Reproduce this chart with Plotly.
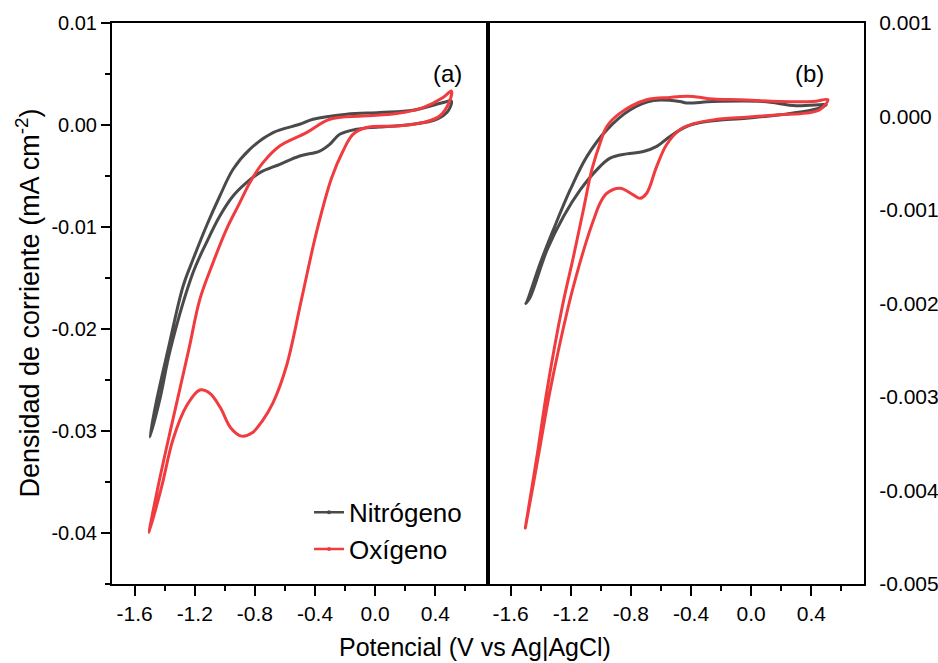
import plotly.graph_objects as go

# ---------------- data ----------------
# Panel (a): Nitrógeno (closed CV loop)
a_n2_v = [0.506, 0.451, 0.251, 0.030, -0.191, -0.413, -0.502, -0.679, -0.834,
          -0.945, -1.033, -1.122, -1.211, -1.277, -1.377, -1.452, -1.498,
          -1.432, -1.362, -1.211, -1.122, -1.033, -0.945, -0.856, -0.767, -0.634,
          -0.502, -0.369, -0.302, -0.236, -0.125, 0.030, 0.251, 0.407, 0.484, 0.506]
a_n2_j = [0.00235, 0.0022, 0.00144, 0.00122, 0.00105, 0.00056, 0.00007, -0.00075, -0.00238,
          -0.00434, -0.00696, -0.0099, -0.01317, -0.01578, -0.022, -0.0269, -0.0306,
          -0.0269, -0.022, -0.01447, -0.01153, -0.00892, -0.00696, -0.00565, -0.00467, -0.00385,
          -0.00304, -0.00255, -0.00189, -0.00091, -0.00042, -0.0002, 0.00007, 0.00056, 0.00137, 0.00235]

# Panel (a): Oxígeno
a_o2_v = [0.506, 0.451, 0.318, 0.141, -0.081, -0.302, -0.457, -0.635, -0.746, -0.834,
          -0.900, -0.989, -1.078, -1.166, -1.239, -1.365, -1.443, -1.503,
          -1.419, -1.344, -1.255, -1.166, -1.100, -1.030, -0.960, -0.889, -0.820, -0.750,
          -0.679, -0.590, -0.490, -0.391, -0.290, -0.214, -0.148, -0.058, 0.141, 0.318,
          0.429, 0.495, 0.506]
a_o2_j = [0.00333, 0.00269, 0.00171, 0.00112, 0.00088, 0.00056, -0.00075, -0.00206, -0.00369, -0.00565,
          -0.00761, -0.01023, -0.01349, -0.01709, -0.022, -0.03016, -0.03539, -0.03996,
          -0.0354, -0.03081, -0.02755, -0.02598, -0.0263, -0.0277, -0.0297, -0.0305, -0.0302, -0.0290,
          -0.02722, -0.02363, -0.01709, -0.01055, -0.0052, -0.00255, -0.00091, -0.00025, -0.0001, 0.00024,
          0.00088, 0.00235, 0.00333]

# Panel (b): Nitrógeno
b_n2_v = [0.499, 0.300, 0.079, -0.253, -0.430, -0.474, -0.650, -0.806, -0.960, -1.093, -1.204,
          -1.315, -1.403, -1.491, -1.498,
          -1.469, -1.358, -1.248, -1.137, -1.027, -0.938, -0.828, -0.717, -0.628, -0.540,
          -0.430, -0.297, -0.031, 0.190, 0.411, 0.499]
b_n2_j = [0.000125, 0.000115, 0.00016, 0.00016, 0.000144, 0.00016, 0.00017, 0.00007, -0.000143, -0.000429, -0.000786,
          -0.00121, -0.00157, -0.00198, -0.0020,
          -0.00193, -0.00143, -0.00107, -0.000786, -0.000571, -0.000446, -0.0004, -0.000375, -0.00032, -0.000214,
          -0.000107, -0.000054, -0.000018, 0.000018, 0.000072, 0.000125]

# Panel (b): Oxígeno
b_o2_v = [0.510, 0.410, 0.190, -0.076, -0.253, -0.386, -0.474, -0.540, -0.695, -0.872, -0.960,
          -1.005, -1.060, -1.116, -1.182, -1.257, -1.358, -1.425, -1.502,
          -1.416, -1.337, -1.217, -1.159, -1.093, -1.049, -1.005, -0.960, -0.872, -0.784,
          -0.739, -0.695, -0.629, -0.562, -0.474, -0.386, -0.253, -0.031, 0.190,
          0.367, 0.455, 0.510]
b_o2_j = [0.000179, 0.00016, 0.00016, 0.000179, 0.000186, 0.000214, 0.000214, 0.000204, 0.000179, 0.000036, -0.000107,
          -0.000285, -0.000571, -0.001, -0.0015, -0.00204, -0.00293, -0.00364, -0.0044,
          -0.00364, -0.00293, -0.00204, -0.00168, -0.00132, -0.00111, -0.000928, -0.000821, -0.000767, -0.000839,
          -0.000875, -0.000821, -0.000536, -0.0003, -0.00014, -0.000078, -0.000036, -0.000007, 0.000018,
          0.000036, 0.000072, 0.000179]

series_names = ["Nitrógeno", "Oxígeno"]
panel_labels = ["(a)", "(b)"]

x_tickvals = [-1.6, -1.2, -0.8, -0.4, 0.0, 0.4]
x_ticktext = ["-1.6", "-1.2", "-0.8", "-0.4", "0.0", "0.4"]
ya_tickvals = [0.01, 0.0, -0.01, -0.02, -0.03, -0.04]
ya_ticktext = ["0.01", "0.00", "-0.01", "-0.02", "-0.03", "-0.04"]
yb_tickvals = [0.001, 0.0, -0.001, -0.002, -0.003, -0.004, -0.005]
yb_ticktext = ["0.001", "0.000", "-0.001", "-0.002", "-0.003", "-0.004", "-0.005"]

x_title = "Potencial (V vs Ag|AgCl)"
y_title = "Densidad de corriente (mA cm<sup>-2</sup>)"

# ---------------- styles ----------------
GRAY = "#4a4a4a"
RED = "#f03c3f"
FONT = "Liberation Sans, Arial, Helvetica, sans-serif"
LW = 3

fig = go.Figure()

def add_curve(v, j, color, xa, ya):
    fig.add_trace(go.Scatter(x=v, y=j, mode="lines", xaxis=xa, yaxis=ya,
                             line=dict(color=color, width=LW, shape="spline", smoothing=1.0),
                             showlegend=False, hoverinfo="skip"))

add_curve(a_n2_v, a_n2_j, GRAY, "x", "y")
add_curve(a_o2_v, a_o2_j, RED, "x", "y")
add_curve(b_n2_v, b_n2_j, GRAY, "x2", "y2")
add_curve(b_o2_v, b_o2_j, RED, "x2", "y2")

# legend entries (line with a small dot, as in the reference)
for name, col in zip(series_names, [GRAY, RED]):
    fig.add_trace(go.Scatter(x=[None], y=[None], mode="lines+markers", name=name,
                             line=dict(color=col, width=2.5),
                             marker=dict(color=col, size=4), xaxis="x", yaxis="y"))

XR = [-1.75, 0.75]
axis_common = dict(showline=True, linecolor="black", linewidth=2, mirror=True,
                   showgrid=False, zeroline=False, tickcolor="black", tickwidth=2,
                   automargin=False)

xbot = dict(axis_common, range=XR, tickvals=x_tickvals, ticktext=x_ticktext,
            ticks="outside", ticklen=10,
            tickfont=dict(family=FONT, size=21, color="black"),
            minor=dict(tickvals=[-1.4, -1.0, -0.6, -0.2, 0.2, 0.6], ticks="outside",
                       ticklen=5, tickwidth=2, tickcolor="black"))
xtop = dict(range=XR, side="top", showline=False, showgrid=False, zeroline=False,
            showticklabels=False, ticks="inside", ticklen=10, tickwidth=2, tickcolor="black",
            automargin=False,
            tickvals=[-1.25, -0.75, -0.25, 0.25],
            minor=dict(tickvals=[-1.5, -1.0, -0.5, 0.0, 0.5], ticks="inside",
                       ticklen=5, tickwidth=2, tickcolor="black"))

fig.update_layout(
    width=938, height=663,
    margin=dict(l=112, r=74, t=23, b=79),
    paper_bgcolor="white", plot_bgcolor="white",
    font=dict(family=FONT, color="black"),
    xaxis=dict(xbot, domain=[0, 0.5], anchor="y"),
    xaxis2=dict(xbot, domain=[0.5, 1.0], anchor="y2"),
    xaxis3=dict(xtop, overlaying="x", anchor="y"),
    xaxis4=dict(xtop, overlaying="x2", anchor="y2"),
    yaxis=dict(axis_common, range=[-0.045, 0.01], anchor="x",
               tickvals=ya_tickvals, ticktext=ya_ticktext, ticks="outside", ticklen=9,
               tickfont=dict(family=FONT, size=20, color="black"),
               minor=dict(dtick=0.005, tick0=0.005, ticks="outside", ticklen=5,
                          tickwidth=2, tickcolor="black")),
    yaxis2=dict(axis_common, range=[-0.005, 0.001], anchor="x2", side="right",
                tickvals=yb_tickvals, ticktext=yb_ticktext, ticks="outside", ticklen=9,
                tickcolor="rgba(0,0,0,0)",
                tickfont=dict(family=FONT, size=21, color="black")),
    yaxis3=dict(range=[0, 10], overlaying="y2", anchor="x2", side="right",
                showline=False, showgrid=False, zeroline=False, showticklabels=False,
                automargin=False,
                ticks="inside", ticklen=10, tickwidth=2, tickcolor="black",
                tickvals=[0, 2, 4, 6, 8, 10],
                minor=dict(tickvals=[1, 3, 5, 7, 9], ticks="inside", ticklen=5,
                           tickwidth=2, tickcolor="black")),
    legend=dict(x=0.262, y=0.02, xanchor="left", yanchor="bottom",
                bgcolor="rgba(0,0,0,0)", borderwidth=0, tracegroupgap=0,
                font=dict(family=FONT, size=26, color="black")),
    showlegend=True,
)

annots = [
    dict(text=panel_labels[0], x=0.4455, y=0.9376, xref="paper", yref="paper",
         showarrow=False, font=dict(family=FONT, size=24)),
    dict(text=panel_labels[1], x=0.9495, y=0.9376, xref="paper", yref="paper",
         showarrow=False, font=dict(family=FONT, size=24)),
    dict(text=x_title, x=0.4825, y=-0.112, xref="paper", yref="paper",
         xanchor="center", yanchor="middle", showarrow=False,
         font=dict(family=FONT, size=25)),
    dict(text=y_title, x=-0.113, y=0.5, xref="paper", yref="paper", textangle=-90,
         xanchor="center", yanchor="middle", showarrow=False,
         font=dict(family=FONT, size=27)),
]
fig.update_layout(annotations=annots)

fig.write_html("out.html", config={"displayModeBar": False},
               post_script="document.body.style.margin='0';document.body.style.overflow='hidden';")
